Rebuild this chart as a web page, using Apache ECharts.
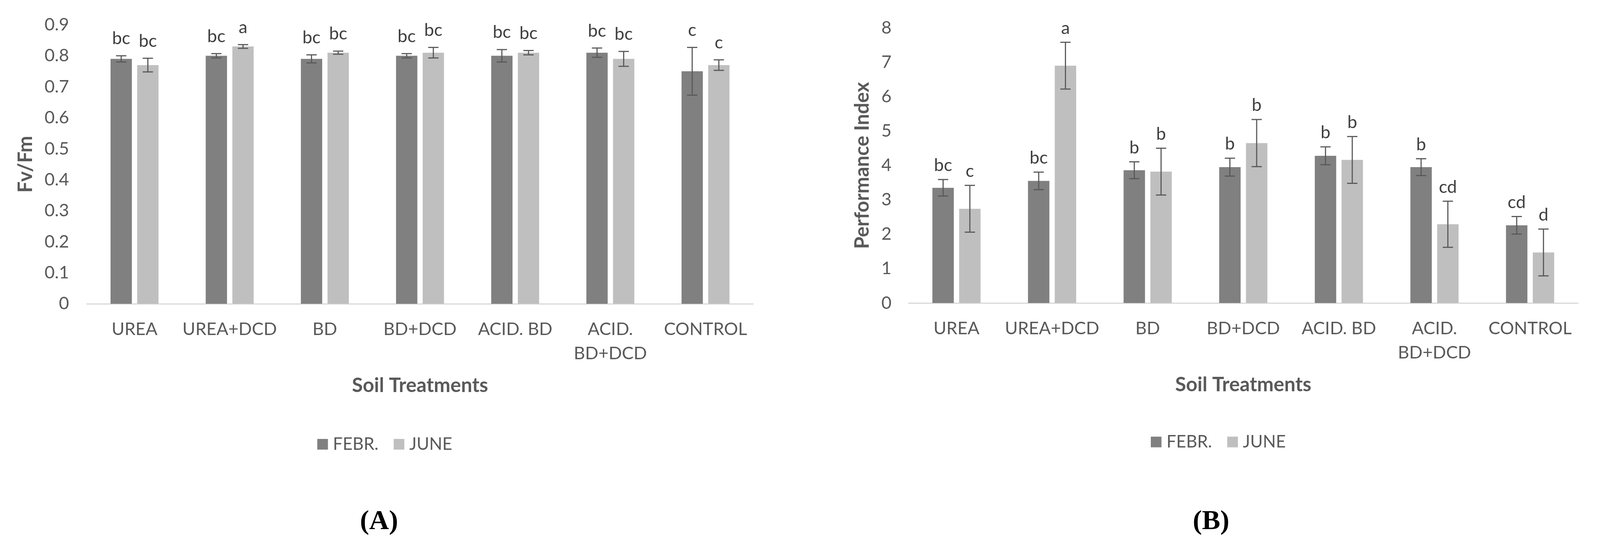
<!DOCTYPE html>
<html>
<head>
<meta charset="utf-8">
<script src="https://cdn.jsdelivr.net/npm/echarts@6/dist/echarts.min.js"></script>
<style>
html,body{margin:0;padding:0;background:#fff;overflow:hidden;}
#chart{width:100vw;height:100vh;}
</style>
</head>
<body>
<div id="chart"></div>
<script>
// ---- data ----
const categories = ['UREA', 'UREA+DCD', 'BD', 'BD+DCD', 'ACID. BD', 'ACID.\nBD+DCD', 'CONTROL'];
const seriesNames = ['FEBR.', 'JUNE'];

// Panel A: Fv/Fm
const fvfmFebr = [0.79, 0.80, 0.79, 0.80, 0.80, 0.81, 0.75];
const fvfmFebrErr = [0.010, 0.007, 0.013, 0.007, 0.020, 0.015, 0.077];
const fvfmJune = [0.77, 0.83, 0.81, 0.81, 0.81, 0.79, 0.77];
const fvfmJuneErr = [0.022, 0.006, 0.005, 0.017, 0.007, 0.024, 0.017];
const fvfmFebrLetters = ['bc', 'bc', 'bc', 'bc', 'bc', 'bc', 'c'];
const fvfmJuneLetters = ['bc', 'a', 'bc', 'bc', 'bc', 'bc', 'c'];
const fvfmTicks = ['0', '0.1', '0.2', '0.3', '0.4', '0.5', '0.6', '0.7', '0.8', '0.9'];

// Panel B: Performance Index
const piFebr = [3.35, 3.55, 3.86, 3.95, 4.28, 3.95, 2.26];
const piFebrErr = [0.24, 0.255, 0.245, 0.26, 0.26, 0.245, 0.255];
const piJune = [2.74, 6.90, 3.82, 4.65, 4.16, 2.29, 1.47];
const piJuneErr = [0.68, 0.68, 0.68, 0.685, 0.68, 0.67, 0.68];
const piFebrLetters = ['bc', 'bc', 'b', 'b', 'b', 'b', 'cd'];
const piJuneLetters = ['c', 'a', 'b', 'b', 'b', 'cd', 'd'];

// ---- layout scaling (design size 4196 x 1429, uniform) ----
const sx = window.innerWidth / 4196;
const sy = sx;
const sf = sx;
const X = v => v * sx, Y = v => v * sy, F = v => v * sf;

// ---- styling ----
const FONT = 'Lato, "Open Sans", sans-serif';
const TXT = '#595959';
const COL_FEBR = '#808080';
const COL_JUNE = '#bfbfbf';
const BAR_FRAC = 0.224;   // bar width as fraction of category band
const GAP_FRAC = 0.25;    // gap between the two bars as fraction of bar width

function errSeries(name, gridIdx, values, errs, letters, side, labelDist) {
  return {
    name: name,
    type: 'custom',
    xAxisIndex: gridIdx,
    yAxisIndex: gridIdx,
    clip: false,
    z: 5,
    silent: true,
    data: values.map((v, i) => [i, v, errs[i]]),
    encode: { x: 0, y: 1 },
    renderItem: function (params, api) {
      const ci = api.value(0), v = api.value(1), e = api.value(2);
      const band = api.size([1, 0])[0];
      const bw = band * BAR_FRAC;
      const off = (bw + bw * GAP_FRAC) / 2 * side;
      const x = api.coord([ci, v])[0] + off;
      const yHi = api.coord([ci, v + e])[1];
      const yLo = api.coord([ci, v - e])[1];
      const cap = X(13.5);
      const ls = { stroke: '#595959', lineWidth: F(3) };
      return {
        type: 'group',
        children: [
          { type: 'line', shape: { x1: x, y1: yHi, x2: x, y2: yLo }, style: ls },
          { type: 'line', shape: { x1: x - cap, y1: yHi, x2: x + cap, y2: yHi }, style: ls },
          { type: 'line', shape: { x1: x - cap, y1: yLo, x2: x + cap, y2: yLo }, style: ls },
          { type: 'text', style: {
              text: letters[params.dataIndex], x: x, y: yHi - Y(labelDist),
              textAlign: 'center', textVerticalAlign: 'bottom',
              fontSize: F(46), fontFamily: FONT, fill: '#404040' } }
        ]
      };
    }
  };
}

function barSeries(name, gridIdx, values, color) {
  return {
    name: name, type: 'bar', xAxisIndex: gridIdx, yAxisIndex: gridIdx,
    data: values, barWidth: (BAR_FRAC * 100) + '%', barGap: (GAP_FRAC * 100) + '%',
    itemStyle: { color: color }, silent: true
  };
}

function xAxisFor(gi) {
  return {
    gridIndex: gi,
    type: 'category',
    data: categories,
    axisLine: { lineStyle: { color: '#d9d9d9', width: F(3) } },
    axisTick: { show: false },
    axisLabel: { color: TXT, fontSize: F(46), fontFamily: FONT, margin: Y(36), lineHeight: Y(63), interval: 0 },
    name: 'Soil Treatments',
    nameLocation: 'middle',
    nameGap: Y(189),
    nameTextStyle: { color: TXT, fontSize: F(52), fontWeight: 'bold', fontFamily: FONT, lineHeight: F(52) }
  };
}

function legendAt(left, top) {
  return { data: seriesNames, left: X(left), top: Y(top), padding: 0,
    itemWidth: F(28), itemHeight: F(28), itemGap: X(40), icon: 'rect', selectedMode: false,
    textStyle: { color: TXT, fontSize: F(45), fontFamily: FONT, padding: [0, 0, 0, X(8)] } };
}

function panelLabel(letter, cx) {
  return { text: '{p|(}{b|' + letter + '}{p|)}', left: X(cx), top: Y(1334), textAlign: 'center', padding: 0,
    textStyle: { rich: {
      p: { fontFamily: '"Liberation Serif", serif', fontSize: F(72), color: '#000' },
      b: { fontFamily: '"Liberation Serif", serif', fontSize: F(72), fontWeight: 'bold', color: '#000' } } } };
}

const option = {
  backgroundColor: '#ffffff',
  animation: false,
  grid: [
    { left: X(228), width: X(1747), top: Y(65), height: Y(732) },
    { left: X(2383), width: X(1755), top: Y(73), height: Y(722) }
  ],
  xAxis: [xAxisFor(0), xAxisFor(1)],
  yAxis: [
    {
      gridIndex: 0, type: 'value', min: 0, max: 0.9, interval: 0.1,
      axisLine: { show: false }, axisTick: { show: false }, splitLine: { show: false },
      axisLabel: { color: TXT, fontSize: F(46), fontFamily: FONT, margin: X(47),
        formatter: function (v) { return fvfmTicks[Math.round(v * 10)]; } },
      name: 'Fv/Fm', nameLocation: 'middle', nameRotate: 90, nameGap: X(135),
      nameTextStyle: { color: TXT, fontSize: F(52), fontWeight: 'bold', fontFamily: FONT, lineHeight: F(52) }
    },
    {
      gridIndex: 1, type: 'value', min: 0, max: 8, interval: 1,
      axisLine: { show: false }, axisTick: { show: false }, splitLine: { show: false },
      axisLabel: { color: TXT, fontSize: F(46), fontFamily: FONT, margin: X(45) },
      name: 'Performance Index', nameLocation: 'middle', nameRotate: 90, nameGap: X(95),
      nameTextStyle: { color: TXT, fontSize: F(52), fontWeight: 'bold', fontFamily: FONT, lineHeight: F(52) }
    }
  ],
  legend: [legendAt(832, 1143), legendAt(3018, 1137)],
  title: [panelLabel('A', 994), panelLabel('B', 3176)],
  series: [
    barSeries('FEBR.', 0, fvfmFebr, COL_FEBR),
    barSeries('JUNE', 0, fvfmJune, COL_JUNE),
    barSeries('FEBR.', 1, piFebr, COL_FEBR),
    barSeries('JUNE', 1, piJune, COL_JUNE),
    errSeries('errA1', 0, fvfmFebr, fvfmFebrErr, fvfmFebrLetters, -1, 22),
    errSeries('errA2', 0, fvfmJune, fvfmJuneErr, fvfmJuneLetters, 1, 22),
    errSeries('errB1', 1, piFebr, piFebrErr, piFebrLetters, -1, 14),
    errSeries('errB2', 1, piJune, piJuneErr, piJuneLetters, 1, 14)
  ]
};

const chart = echarts.init(document.getElementById('chart'));
chart.setOption(option);
</script>
</body>
</html>
